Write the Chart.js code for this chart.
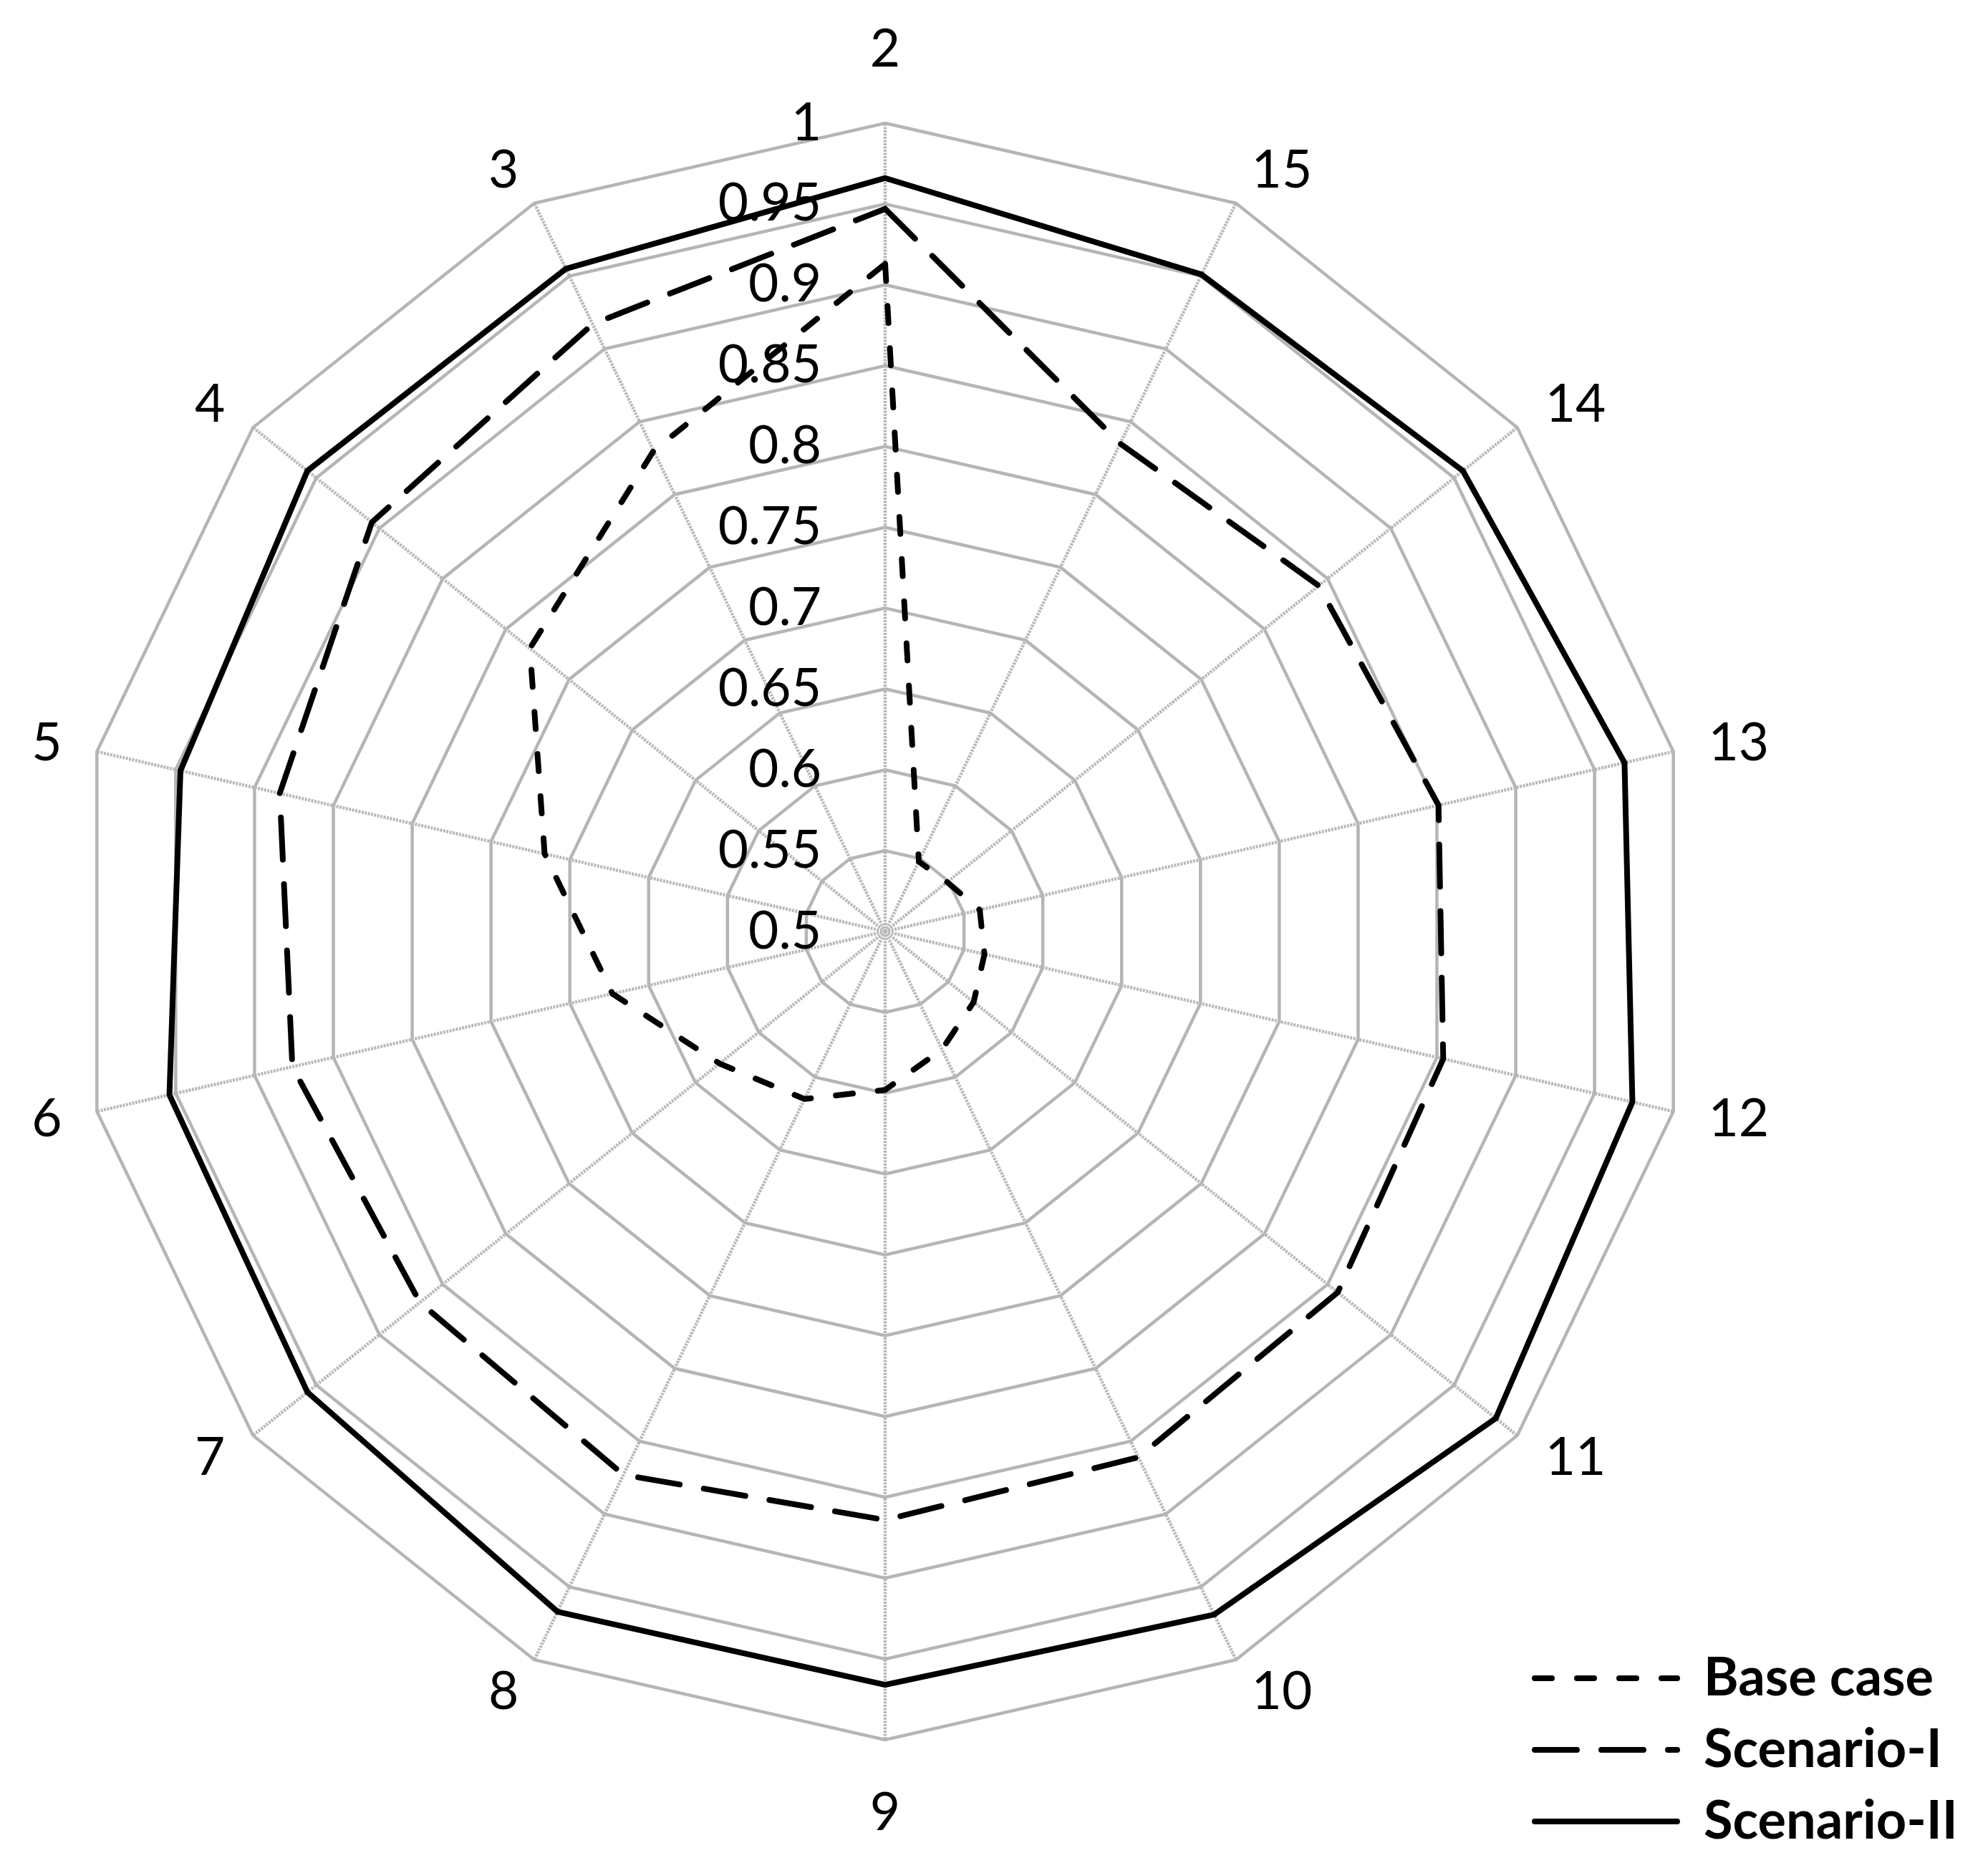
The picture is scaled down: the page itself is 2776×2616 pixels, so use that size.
<!DOCTYPE html>
<html>
<head>
<meta charset="utf-8">
<title>Voltage profile radar</title>
<script src="https://cdn.jsdelivr.net/npm/chart.js@4.4.1/dist/chart.umd.min.js"></script>
<style>
  html, body { margin: 0; padding: 0; background: #fff; }
  canvas { display: block; }
</style>
</head>
<body>
<canvas id="radar" width="2776" height="2616"></canvas>
<script>
/* ---- data (bus order clockwise from the top) ---- */
const buses     = ['2', '15', '14', '13', '12', '11', '10', '9', '8', '7', '6', '5', '4', '3'];
const baseCase  = [0.913, 0.548, 0.549, 0.560, 0.563, 0.570, 0.581, 0.598, 0.615, 0.631, 0.673, 0.716, 0.781, 0.830];
const scenario1 = [0.947, 0.835, 0.843, 0.851, 0.854, 0.858, 0.861, 0.864, 0.873, 0.868, 0.876, 0.884, 0.906, 0.917];
const scenario2 = [0.966, 0.951, 0.957, 0.969, 0.974, 0.983, 0.969, 0.966, 0.967, 0.957, 0.954, 0.947, 0.957, 0.955];
const rMin = 0.5, rMax = 1, rStep = 0.05;

/* ---- look ---- */
const FONT   = 'Lato, "Open Sans", sans-serif';
const GRID   = '#b5b5b5';
const CENTER = {x: 1236, y: 1301, r: 1129};   // where the web sits on the page

const lineSet = (label, data, dash) => ({
  label, data,
  borderColor: '#000', backgroundColor: '#000',
  borderWidth: 8, borderDash: dash, borderCapStyle: 'round', borderJoinStyle: 'miter',
  fill: false, tension: 0, pointRadius: 0, pointHoverRadius: 0
});

/* tick values, written left of the vertical axis (0.5 included) */
const tickText = {
  id: 'tickText',
  beforeDatasetsDraw(chart){
    const s = chart.scales.r, ctx = chart.ctx;
    ctx.save();
    ctx.font = '73px ' + FONT;
    ctx.fillStyle = '#000';
    ctx.textAlign = 'right';
    ctx.textBaseline = 'middle';
    s.ticks.forEach(t => {
      ctx.fillText(t.label, s.xCenter - 89, s.yCenter - s.getDistanceFromCenterForValue(t.value));
    });
    ctx.restore();
  }
};

/* legend sits in the lower right corner, over the chart area */
const legendSpot = {
  id: 'legendSpot',
  afterLayout(chart){
    const lg = chart.legend;
    lg.left = 2117; lg.top = 2281;
    lg.right = chart.width; lg.bottom = chart.height + 300;
    lg.width = lg.right - lg.left; lg.height = lg.bottom - lg.top;
  }
};

new Chart(document.getElementById('radar'), {
  type: 'radar',
  data: {
    labels: buses,
    datasets: [
      lineSet('Base case',   baseCase,  [24, 35]),
      lineSet('Scenario-I',  scenario1, [59, 34]),
      lineSet('Scenario-II', scenario2, [])
    ]
  },
  options: {
    responsive: false,
    animation: false,
    events: [],
    layout: {padding: 0},
    plugins: {
      tooltip: {enabled: false},
      legend: {
        position: 'chartArea',
        align: 'start',
        labels: {
          usePointStyle: true,
          pointStyleWidth: 199,
          boxHeight: 20,
          padding: 26,
          color: '#000',
          font: {family: FONT, size: 74, weight: 'bold'},
          generateLabels: chart => chart.data.datasets.map((ds, i) => ({
            text: ds.label, datasetIndex: i,
            fillStyle: ds.borderColor, strokeStyle: ds.borderColor, fontColor: '#000',
            lineWidth: ds.borderWidth, lineDash: ds.borderDash, lineCap: 'round',
            pointStyle: 'line', hidden: false
          }))
        }
      }
    },
    scales: {
      r: {
        min: rMin, max: rMax,
        ticks: {stepSize: rStep, display: false, callback: v => String(+v.toFixed(2))},
        grid: {color: GRID, lineWidth: 4.5, circular: false},
        angleLines: {color: '#b8b8b8', lineWidth: 4.5, borderDash: [3, 1.5]},
        pointLabels: {
          color: '#000',
          font: {family: FONT, size: 73, lineHeight: '1px'},
          padding: c => (c.index === 0 || c.index === 7) ? 102 : 50
        },
        afterSetDimensions: s => {
          s.xCenter = CENTER.x; s.yCenter = CENTER.y; s.drawingArea = CENTER.r;
        }
      }
    }
  },
  plugins: [tickText, legendSpot]
});
</script>
</body>
</html>
